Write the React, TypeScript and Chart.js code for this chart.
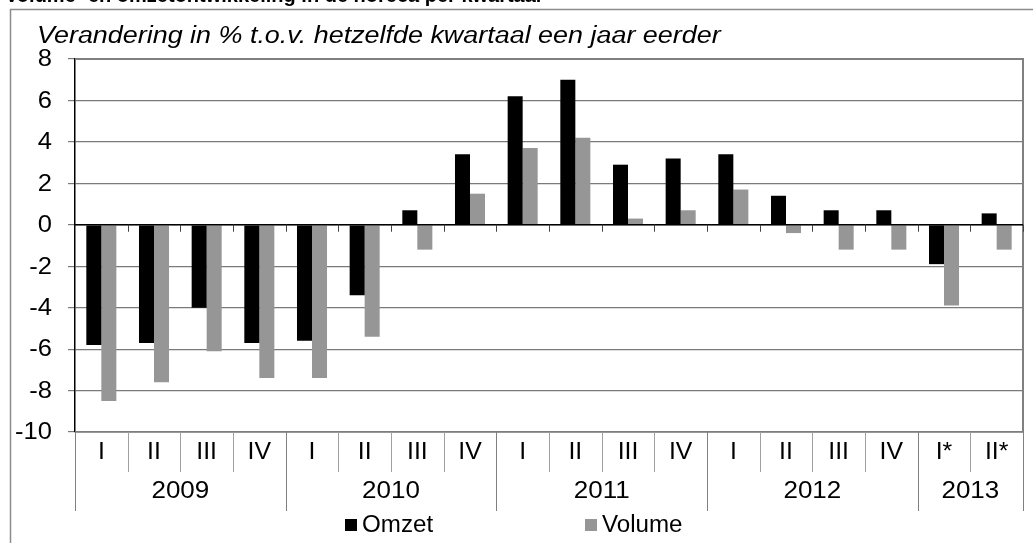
import React, { useEffect, useRef } from "react";
import { Chart, registerables } from "chart.js";

Chart.register(...registerables);

const quarters = ["I", "II", "III", "IV", "I", "II", "III", "IV", "I", "II", "III", "IV", "I", "II", "III", "IV", "I*", "II*"];
const years = ["2009", "2010", "2011", "2012", "2013"];
const yearSpans = [4, 4, 4, 4, 2];
const omzet = [-5.8, -5.7, -4.0, -5.7, -5.6, -3.4, 0.7, 3.4, 6.2, 7.0, 2.9, 3.2, 3.4, 1.4, 0.7, 0.7, -1.9, 0.55];
const volume = [-8.5, -7.6, -6.1, -7.4, -7.4, -5.4, -1.2, 1.5, 3.7, 4.2, 0.3, 0.7, 1.7, -0.4, -1.2, -1.2, -3.9, -1.2];
const seriesNames = ["Omzet", "Volume"];
const yTickLabels = ["8", "6", "4", "2", "0", "-2", "-4", "-6", "-8", "-10"];
const title = "Volume- en omzetontwikkeling in de horeca per kwartaal";
const subtitle = "Verandering in % t.o.v. hetzelfde kwartaal een jaar eerder";
const yMin = -10;
const yMax = 8;

const FONT = "'Liberation Sans', Arial, sans-serif";
const COLORS = ["#000000", "#969696"];

function stretchText(ctx: any, text: string, x: number, y: number, sx: number) {
  ctx.save();
  ctx.translate(x, y);
  ctx.scale(sx, 1);
  ctx.fillText(text, 0, 0);
  ctx.restore();
}

const decorPlugin = {
  id: "decor",
  afterDraw(chart: any) {
    const ctx = chart.ctx;
    const area = chart.chartArea;
    const xs = chart.scales.x;
    const ys = chart.scales.y;
    const n = quarters.length;
    const catW = (area.right - area.left) / n;
    const bnd = (i: number) => xs.getPixelForValue(0) - catW / 2 + i * catW;
    const y0 = ys.getPixelForValue(0);
    const bottom = area.bottom;

    ctx.save();
    // outer frame
    ctx.strokeStyle = "#8c8c8c";
    ctx.lineWidth = 1.5;
    ctx.beginPath();
    ctx.moveTo(10.5, 560);
    ctx.lineTo(10.5, 9.5);
    ctx.lineTo(1040, 9.5);
    ctx.stroke();

    // cut-off title
    ctx.fillStyle = "#000";
    ctx.font = `bold 20px ${FONT}`;
    ctx.textAlign = "left";
    ctx.textBaseline = "alphabetic";
    stretchText(ctx, title, 5, 2, 1.0);

    // subtitle
    ctx.font = `italic 23px ${FONT}`;
    stretchText(ctx, subtitle, 37, 43, 1.17);

    // plot border top/right
    ctx.strokeStyle = "#808080";
    ctx.lineWidth = 2;
    ctx.beginPath();
    ctx.moveTo(area.left, area.top);
    ctx.lineTo(area.right, area.top);
    ctx.lineTo(area.right, area.bottom);
    ctx.stroke();

    // bottom line at -10
    ctx.strokeStyle = "#808080";
    ctx.lineWidth = 1.5;
    ctx.beginPath();
    ctx.moveTo(area.left, bottom);
    ctx.lineTo(area.right, bottom);
    ctx.stroke();

    // zero line + ticks
    ctx.strokeStyle = "#000";
    ctx.lineWidth = 1.5;
    ctx.beginPath();
    ctx.moveTo(area.left, y0);
    ctx.lineTo(area.right, y0);
    ctx.stroke();
    ctx.lineWidth = 1;
    ctx.strokeStyle = "#444";
    ctx.beginPath();
    for (let i = 1; i <= n; i++) {
      const x = Math.round(bnd(i)) + 0.5;
      ctx.moveTo(x, y0);
      ctx.lineTo(x, y0 + 7);
    }
    ctx.stroke();

    // y labels
    ctx.fillStyle = "#000";
    ctx.font = `23px ${FONT}`;
    ctx.textAlign = "right";
    ctx.textBaseline = "middle";
    yTickLabels.forEach((t) => {
      stretchText(ctx, t, 52, ys.getPixelForValue(Number(t)) + 1, 1.11);
    });

    // separators
    const yearBounds = new Set<number>();
    let acc = 0;
    yearBounds.add(0);
    yearSpans.forEach((s) => {
      acc += s;
      yearBounds.add(acc);
    });
    ctx.lineWidth = 1;
    for (let i = 0; i <= n; i++) {
      const x = Math.round(bnd(i)) + 0.5;
      const isYear = yearBounds.has(i);
      ctx.strokeStyle = isYear ? "#808080" : "#a0a0a0";
      ctx.beginPath();
      ctx.moveTo(x, bottom);
      ctx.lineTo(x, bottom + (isYear ? 79 : 40));
      ctx.stroke();
    }

    // quarter labels
    ctx.fillStyle = "#000";
    ctx.font = `23px ${FONT}`;
    ctx.textAlign = "center";
    ctx.textBaseline = "middle";
    for (let i = 0; i < n; i++) {
      stretchText(ctx, quarters[i], xs.getPixelForValue(i), bottom + 21, 1.08);
    }
    // year labels
    acc = 0;
    years.forEach((yr, k) => {
      const start = bnd(acc);
      acc += yearSpans[k];
      const end = bnd(acc);
      stretchText(ctx, yr, (start + end) / 2, bottom + 60, 1.13);
    });

    // legend
    const legX = [345, 585];
    ctx.textAlign = "left";
    ctx.textBaseline = "middle";
    seriesNames.forEach((name, k) => {
      ctx.fillStyle = COLORS[k];
      ctx.fillRect(legX[k], 519, 12, 12);
      ctx.fillStyle = "#000";
      stretchText(ctx, name, legX[k] + 17, 526, 1.05);
    });
    ctx.restore();
  },
};

export default function App() {
  const ref = useRef<HTMLCanvasElement | null>(null);
  useEffect(() => {
    if (!ref.current) return;
    const yTickValues = yTickLabels.map(Number);
    const chart = new Chart(ref.current, {
      type: "bar",
      data: {
        labels: quarters.map((q, i) => `${q}-${i}`),
        datasets: [
          { label: seriesNames[0], data: omzet, backgroundColor: COLORS[0] },
          { label: seriesNames[1], data: volume, backgroundColor: COLORS[1] },
        ],
      },
      options: {
        animation: false,
        responsive: false,
        maintainAspectRatio: false,
        layout: { padding: { left: 0, top: 59, right: 10, bottom: 111 } },
        datasets: { bar: { categoryPercentage: 0.57, barPercentage: 1.0 } },
        plugins: {
          legend: { display: false },
          tooltip: { enabled: false },
          title: { display: false },
        },
        scales: {
          x: {
            display: false,
            grid: { display: false },
          },
          y: {
            min: yMin,
            max: yMax,
            afterFit(scale: any) {
              scale.width = 75;
            },
            afterBuildTicks(scale: any) {
              scale.ticks = yTickValues.map((v) => ({ value: v }));
            },
            ticks: {
              display: false,
            },
            grid: {
              color: "#7a7a7a",
              lineWidth: 1.2,
              tickLength: 7,
              tickColor: "#7a7a7a",
            },
            border: { color: "#000", width: 1.5 },
          },
        },
      },
      plugins: [decorPlugin],
    });
    return () => chart.destroy();
  }, []);
  return (
    <div style={{ position: "absolute", left: 0, top: 0, width: 1033, height: 543, background: "#fff", overflow: "hidden" }}>
      <canvas ref={ref} width={1033} height={543} style={{ display: "block" }} />
    </div>
  );
}
